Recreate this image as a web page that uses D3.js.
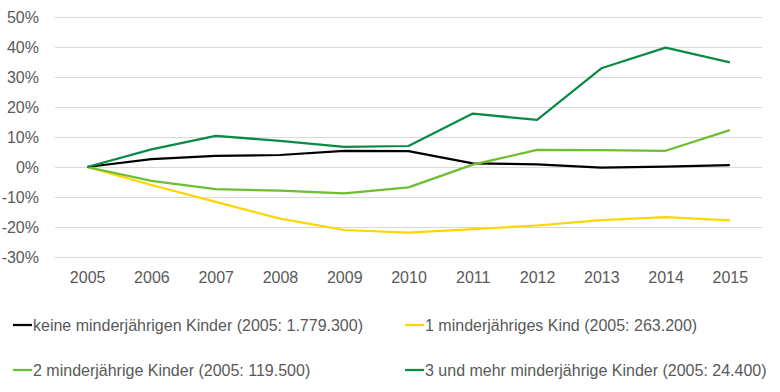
<!DOCTYPE html>
<html>
<head>
<meta charset="utf-8">
<script src="https://cdn.jsdelivr.net/npm/d3@7"></script>
<style>
  body { margin: 0; background: #fff; }
  svg text { font-family: "Liberation Sans", Arial, sans-serif; }
</style>
</head>
<body>
<div id="chart"></div>
<script>
// data: change vs. 2005 in %
var years = ["2005","2006","2007","2008","2009","2010","2011","2012","2013","2014","2015"];
var yTicks = [-30, -20, -10, 0, 10, 20, 30, 40, 50];

var keineKinder   = [0, 2.6, 3.7, 4.0, 5.4, 5.3, 1.2, 0.9, -0.2, 0.1, 0.6];
var einKind       = [0, -6.0, -11.6, -17.2, -21.0, -21.9, -20.7, -19.5, -17.7, -16.7, -17.8];
var zweiKinder    = [0, -4.6, -7.4, -7.9, -8.8, -6.8, 0.8, 5.7, 5.6, 5.4, 12.3];
var dreiUndMehr   = [0, 5.9, 10.4, 8.7, 6.7, 7.0, 17.8, 15.7, 32.9, 39.8, 34.9];

var seriesNames = [
  "keine minderjährigen Kinder (2005: 1.779.300)",
  "1 minderjähriges Kind (2005: 263.200)",
  "2 minderjährige Kinder (2005: 119.500)",
  "3 und mehr minderjährige Kinder (2005: 24.400)"
];
var seriesColors = ["#000000", "#FFD500", "#6DBE30", "#0A8A46"];

var series = [keineKinder, einKind, zweiKinder, dreiUndMehr].map(function(v, i){
	return { name: seriesNames[i], color: seriesColors[i], values: v };
});

var width = 780, height = 392;
var plotLeft = 55, plotRight = 762, plotTop = 17, plotBottom = 257;

var svg = d3.select("#chart").append("svg")
			.attr("width", width)
			.attr("height", height);

var xScale = d3.scalePoint()
				.domain(years)
				.range([plotLeft, plotRight])
				.padding(0.5);

var yScale = d3.scaleLinear()
				.domain([-30, 50])
				.range([plotBottom, plotTop]);

// gridlines + y labels
var yAxis = d3.axisLeft(yScale)
				.tickValues(yTicks)
				.tickSize(-(plotRight - plotLeft))
				.tickPadding(16)
				.tickFormat(d => d + "%");

var gy = svg.append("g")
			.attr("transform", "translate(" + plotLeft + ",0)")
			.call(yAxis);
gy.select(".domain").remove();
gy.selectAll("line").attr("stroke", "#d9d9d9").attr("stroke-width", 1);
gy.selectAll("text").attr("fill", "#595959").attr("font-size", "16px");

// x labels
var xAxis = d3.axisBottom(xScale).tickSize(0).tickPadding(0);
var gx = svg.append("g")
			.attr("transform", "translate(0," + 272 + ")")
			.call(xAxis);
gx.select(".domain").remove();
gx.selectAll("text").attr("fill", "#595959").attr("font-size", "16px");

var line = d3.line()
			.x((d, i) => xScale(years[i]))
			.y(d => yScale(d));

svg.selectAll(".series")
	.data(series)
	.enter()
	.append("path")
	.classed("series", true)
	.attr("d", d => line(d.values))
	.attr("fill", "none")
	.attr("stroke", d => d.color)
	.attr("stroke-width", 2.25)
	.attr("stroke-linejoin", "round");

// legend
var legend = svg.selectAll(".legend")
				.data(series)
				.enter()
				.append("g")
				.classed("legend", true)
				.attr("transform", (d, i) => "translate(" + (i % 2 ? 405 : 13) + "," + (i < 2 ? 325 : 370) + ")");

legend.append("line")
		.attr("x1", 0).attr("x2", 19)
		.attr("stroke", d => d.color)
		.attr("stroke-width", 2.25);

legend.append("text")
		.attr("x", 20)
		.attr("dy", "0.35em")
		.attr("fill", "#595959")
		.attr("font-size", "16px")
		.text(d => d.name);
</script>
</body>
</html>
